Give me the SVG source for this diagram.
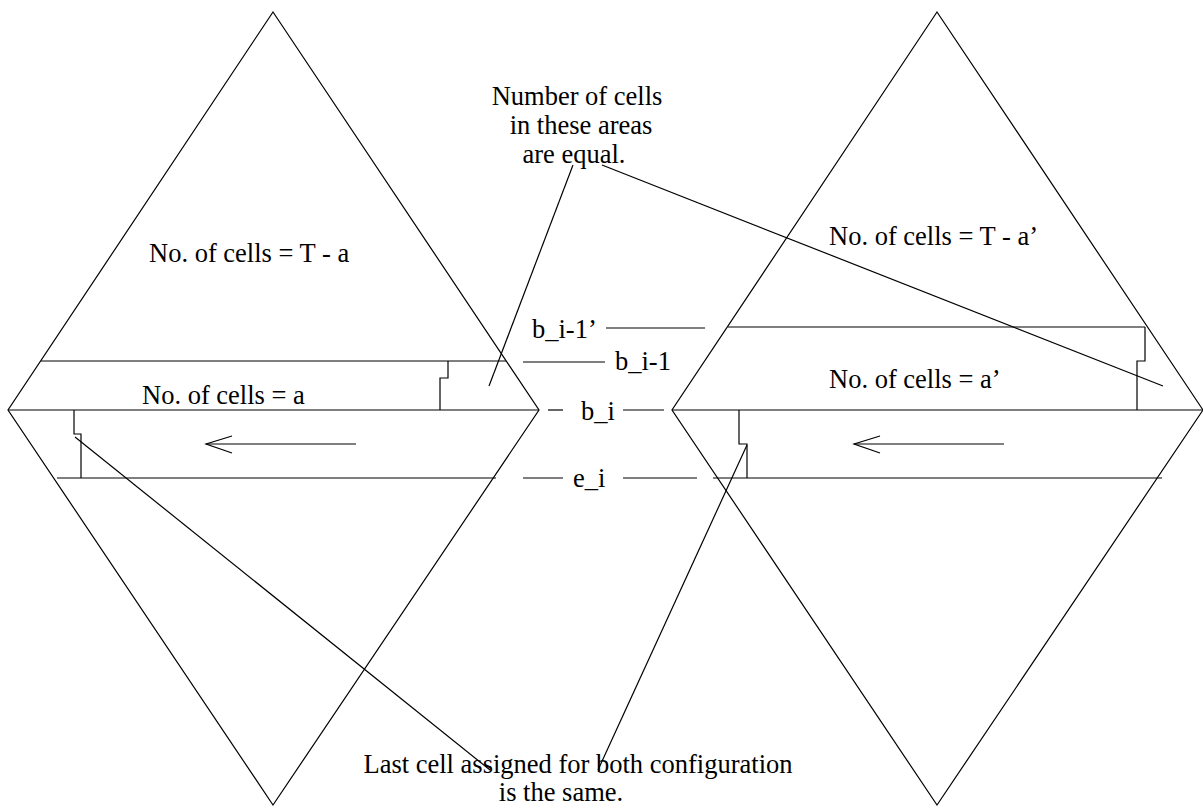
<svg xmlns="http://www.w3.org/2000/svg" width="1203" height="808" viewBox="0 0 1203 808">
<style>
.l{stroke:#000;stroke-width:1.2;fill:none}
text{font-family:'Liberation Serif','DejaVu Serif',serif;font-size:26.5px;fill:#000}
</style>
<rect width="1203" height="808" fill="#fff"/>
<g id="left-diamond">
<polygon class="l" points="273,12 539,410 273,805 8,410"/>
<line class="l" x1="41" y1="361" x2="506" y2="361"/>
<line class="l" x1="8" y1="410" x2="539" y2="410"/>
<line class="l" x1="57" y1="478" x2="496" y2="478"/>
<polyline class="l" points="448,361 448,378 440,378 440,410"/>
<polyline class="l" points="74,410 74,434 81,434 81,478"/>
<text x="149" y="262">No. of cells = T - a</text>
<text x="142" y="404">No. of cells = a</text>
</g>
<g id="right-diamond">
<polygon class="l" points="937,12 1203,410 937,805 672,410"/>
<line class="l" x1="728" y1="327" x2="1145" y2="327"/>
<line class="l" x1="672" y1="410" x2="1203" y2="410"/>
<line class="l" x1="713" y1="478" x2="1162" y2="478"/>
<polyline class="l" points="1145,327 1145,361 1137,361 1137,410"/>
<polyline class="l" points="739,410 739,444 747,444 747,478"/>
<text x="829" y="245">No. of cells = T - a’</text>
<text x="829" y="388">No. of cells = a’</text>
</g>
<g id="arrows">
<line class="l" x1="356" y1="444" x2="206" y2="444"/>
<polyline class="l" points="232,436 206,444 232,453"/>
<line class="l" x1="1004" y1="444" x2="854" y2="444"/>
<polyline class="l" points="880,436 854,444 880,453"/>
</g>
<g id="labels">
<text x="532" y="338">b_i-1’</text>
<line class="l" x1="606" y1="328" x2="705" y2="328"/>
<line class="l" x1="523" y1="362" x2="605" y2="362"/>
<text x="615" y="370">b_i-1</text>
<line class="l" x1="548" y1="410" x2="563" y2="410"/>
<text x="581" y="420">b_i</text>
<line class="l" x1="623" y1="410" x2="664" y2="410"/>
<line class="l" x1="523" y1="478" x2="563" y2="478"/>
<text x="573" y="487">e_i</text>
<line class="l" x1="623" y1="478" x2="697" y2="478"/>
</g>
<g id="note-top">
<text text-anchor="middle"><tspan x="577" y="105">Number of cells</tspan><tspan x="581" y="134">in these areas</tspan><tspan x="574" y="163">are equal.</tspan></text>
</g>
<g id="note-bottom">
<text text-anchor="middle"><tspan x="578" y="773">Last cell assigned for both configuration</tspan><tspan x="561" y="801">is the same.</tspan></text>
</g>
<g id="connectors">
<line class="l" x1="573" y1="165" x2="489" y2="386"/>
<line class="l" x1="602" y1="165" x2="1163" y2="386"/>
<line class="l" x1="75" y1="437" x2="490" y2="770"/>
<line class="l" x1="747" y1="445" x2="598" y2="770"/>
</g>
</svg>
